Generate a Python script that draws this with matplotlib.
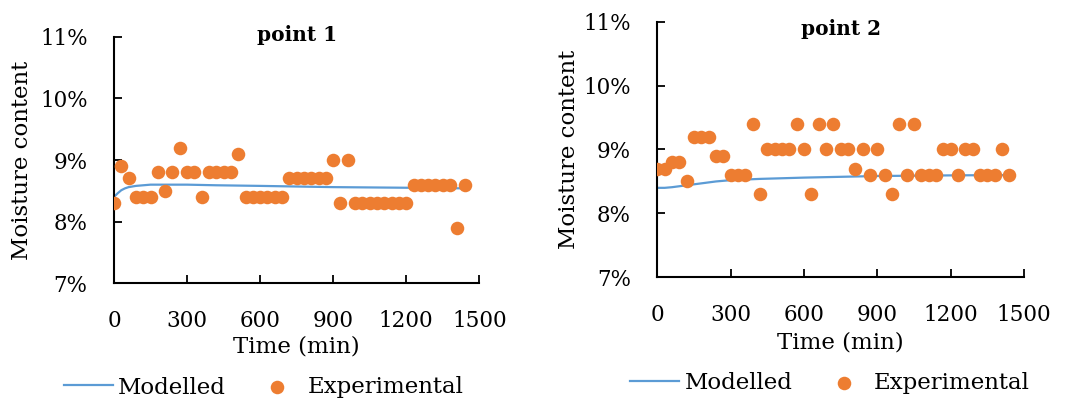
import matplotlib
matplotlib.use("Agg")
from matplotlib import pyplot as plt

# Experimental readings every 30 min (moisture content, %)
time_exp = list(range(0, 1441, 30))
exp_p1 = [8.3, 8.9, 8.7, 8.4, 8.4, 8.4, 8.8, 8.5, 8.8, 9.2,
          8.8, 8.8, 8.4, 8.8, 8.8, 8.8, 8.8, 9.1, 8.4, 8.4,
          8.4, 8.4, 8.4, 8.4, 8.7, 8.7, 8.7, 8.7, 8.7, 8.7,
          9.0, 8.3, 9.0, 8.3, 8.3, 8.3, 8.3, 8.3, 8.3, 8.3,
          8.3, 8.6, 8.6, 8.6, 8.6, 8.6, 8.6, 7.9, 8.6]
exp_p2 = [8.7, 8.7, 8.8, 8.8, 8.5, 9.2, 9.2, 9.2, 8.9, 8.9,
          8.6, 8.6, 8.6, 9.4, 8.3, 9.0, 9.0, 9.0, 9.0, 9.4,
          9.0, 8.3, 9.4, 9.0, 9.4, 9.0, 9.0, 8.7, 9.0, 8.6,
          9.0, 8.6, 8.3, 9.4, 8.6, 9.4, 8.6, 8.6, 8.6, 9.0,
          9.0, 8.6, 9.0, 9.0, 8.6, 8.6, 8.6, 9.0, 8.6]

# Modelled curves
time_mod1 = [0, 15, 30, 45, 60, 90, 120, 150, 180, 240, 300, 420, 600, 900, 1200, 1440]
mod_p1 = [8.40, 8.46, 8.51, 8.54, 8.56, 8.58, 8.59, 8.60, 8.60, 8.60, 8.60, 8.59, 8.58, 8.56, 8.55, 8.54]
time_mod2 = [0, 30, 60, 120, 180, 240, 300, 420, 600, 900, 1200, 1440]
mod_p2 = [8.40, 8.40, 8.41, 8.44, 8.47, 8.50, 8.52, 8.54, 8.56, 8.585, 8.595, 8.60]

titles = ["point 1", "point 2"]
x_ticks = [0, 300, 600, 900, 1200, 1500]
y_ticks = [7, 8, 9, 10, 11]

blue = "#5B9BD5"
orange = "#ED7D31"

plt.rcParams["font.family"] = "DejaVu Serif"
fig = plt.figure(figsize=(10.84, 4.01), dpi=100)

W, H = 1084.0, 401.0
# axes boxes in pixels: left, right, top, bottom
boxes = [(114, 479.3, 36.7, 283.3), (657.3, 1024, 21.7, 277.3)]
title_y = [1.008, 0.972]
xlab_y = [-0.258, -0.257]
ylab_x = [-0.252, -0.241]
leg_pos = [(263.5, 387.5), (830, 383)]

panels = [(time_mod1, mod_p1, exp_p1), (time_mod2, mod_p2, exp_p2)]

for i, (tm, vm, ve) in enumerate(panels):
    l, r, t, b = boxes[i]
    ax = fig.add_axes([l / W, 1 - b / H, (r - l) / W, (b - t) / H])
    line, = ax.plot(tm, vm, color=blue, lw=1.6, label="Modelled", zorder=2)
    pts = ax.scatter(time_exp, ve, s=95, color=orange, label="Experimental",
                     zorder=3, linewidths=0)
    ax.set_xlim(0, 1500)
    ax.set_ylim(7, 11)
    ax.set_xticks(x_ticks)
    ax.set_yticks(y_ticks)
    ax.set_yticklabels([f"{v}%" for v in y_ticks])
    for s in ["top", "right"]:
        ax.spines[s].set_visible(False)
    for s in ["left", "bottom"]:
        ax.spines[s].set_linewidth(1.5)
    ax.tick_params(axis="both", direction="in", length=6, width=1.3,
                   labelsize=15.5)
    ax.tick_params(axis="y", pad=19)
    ax.tick_params(axis="x", pad=19)
    ax.set_xlabel("Time (min)", fontsize=16.5)
    ax.set_ylabel("Moisture content", fontsize=16.5)
    ax.xaxis.label.set_va("center")
    ax.yaxis.label.set_va("center")
    ax.xaxis.set_label_coords(0.5, xlab_y[i])
    ax.yaxis.set_label_coords(ylab_x[i], 0.5)
    ax.text(0.5, title_y[i], titles[i], transform=ax.transAxes, ha="center",
            va="center", fontsize=14.5, fontweight="bold")
    lx, ly = leg_pos[i]
    fig.legend(handles=[line, pts], loc="center", ncol=2, frameon=False,
               bbox_to_anchor=(lx / W, 1 - ly / H), fontsize=16.5,
               handlelength=2.14, columnspacing=1.16, handletextpad=0.25,
               borderaxespad=0, borderpad=0)

fig.savefig("out.png", dpi=100)
